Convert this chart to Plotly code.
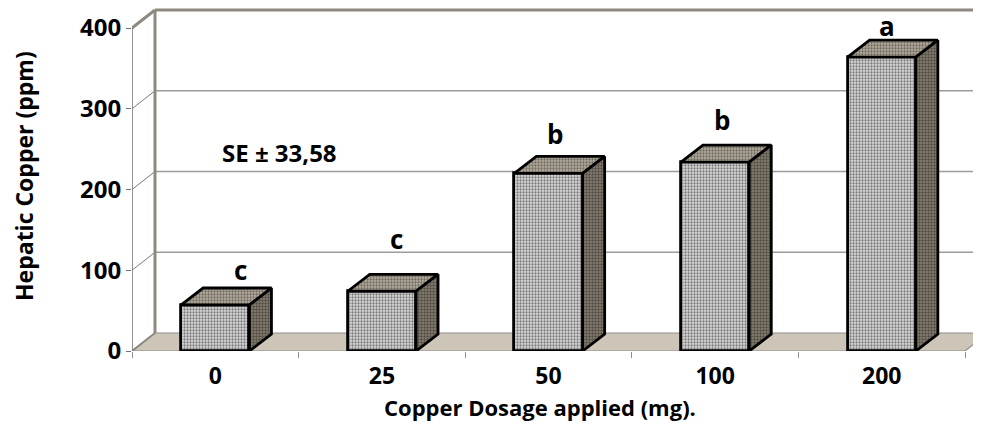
import plotly.graph_objects as go

# ---- data ----
categories = ["0", "25", "50", "100", "200"]
hepatic_cu = [57, 74, 220, 234, 364]
letters = ["c", "c", "b", "b", "a"]
letter_x = [0.15, 1.09, 2.04, 3.04, 4.03]
letter_y = [100, 139, 269, 286, 402]
y_ticks = [0, 100, 200, 300, 400]
se_text = "SE \u00b1 33,58"

# ---- geometry of the pseudo-3D look (in axis units) ----
BAR_W = 0.41
B_DX, B_DY = 0.132, 21.0     # bar depth offset
W_DX, W_DY = 0.138, 22.3     # wall depth offset
X0, X1 = -0.5, len(categories) - 0.5
XR = 4.644
YR = 424.8

# page body margin (browser default) is compensated in the layout margins
ML, MT, MB = 124, 0, 100
PW, PH = 981 - ML, 443 - MT - MB


def px(xw):
    return (xw - 8 - ML) / PW


def py(yw):
    return (8 + MT + PH - yw) / PH


FONT = "Open Sans"
GRID = "#9c9c9c"
WALL = "#8e8a80"

fig = go.Figure()

idx = list(range(len(categories)))

# front faces
fig.add_trace(go.Bar(
    x=idx, y=hepatic_cu, width=BAR_W,
    marker=dict(color="#d8d8d8",
                line=dict(color="black", width=2.8),
                pattern=dict(shape=".", fgcolor="#1a1a1a", bgcolor="#dadada",
                             size=3, solidity=0.45)),
    hoverinfo="skip", showlegend=False))

# top and side faces
for i, v in zip(idx, hepatic_cu):
    l, r = i - BAR_W / 2, i + BAR_W / 2
    fig.add_trace(go.Scatter(
        x=[l, r, r + B_DX, l + B_DX, l], y=[v, v, v + B_DY, v + B_DY, v],
        mode="lines", fill="toself", fillcolor="#b3ab9c",
        fillpattern=dict(shape=".", fgcolor="#2a2a2a", bgcolor="#b5ac9c",
                         size=3, solidity=0.45),
        line=dict(color="black", width=2.8), hoverinfo="skip", showlegend=False))
    fig.add_trace(go.Scatter(
        x=[r, r + B_DX, r + B_DX, r, r], y=[0, B_DY, v + B_DY, v, 0],
        mode="lines", fill="toself", fillcolor="#847d70",
        fillpattern=dict(shape=".", fgcolor="#1a1a1a", bgcolor="#898172",
                         size=3, solidity=0.5),
        line=dict(color="black", width=2.8), hoverinfo="skip", showlegend=False))

shapes = []
# floor
shapes.append(dict(type="path", xref="x", yref="y", layer="below",
                   path=f"M {X0},0 L {X1},0 L {X1 + W_DX},{W_DY} L {X0 + W_DX},{W_DY} Z",
                   fillcolor="#cdc5b7", line=dict(color="#8f8f8f", width=1.2)))
# back wall gridlines + side-wall diagonals
for t in y_ticks[1:]:
    top = t == y_ticks[-1]
    shapes.append(dict(type="line", xref="x", yref="y", layer="below",
                       x0=X0 + W_DX, y0=t + W_DY, x1=XR + 0.2, y1=t + W_DY,
                       line=dict(color=WALL if top else GRID, width=3 if top else 1.5)))
    shapes.append(dict(type="line", xref="x", yref="y", layer="below",
                       x0=X0, y0=t, x1=X0 + W_DX, y1=t + W_DY,
                       line=dict(color=WALL if top else "#555555", width=3 if top else 0.8)))
# back wall left edge
shapes.append(dict(type="line", xref="x", yref="y", layer="below",
                   x0=X0 + W_DX, y0=W_DY, x1=X0 + W_DX, y1=y_ticks[-1] + W_DY,
                   line=dict(color=WALL, width=3)))
# floor left diagonal
shapes.append(dict(type="line", xref="x", yref="y", layer="below",
                   x0=X0, y0=0, x1=X0 + W_DX, y1=W_DY,
                   line=dict(color=WALL, width=2)))
# front value axis line
shapes.append(dict(type="line", xref="x", yref="y", layer="below",
                   x0=X0, y0=0, x1=X0, y1=y_ticks[-1],
                   line=dict(color="#6f6f6f", width=1.5)))

annotations = []
for lx, ly, t in zip(letter_x, letter_y, letters):
    annotations.append(dict(x=lx, y=ly, xref="x", yref="y", text=t, showarrow=False,
                            xanchor="center", yanchor="middle",
                            font=dict(family=FONT, size=26, color="black", weight="bold")))
annotations.append(dict(x=px(279), y=py(153), xref="paper", yref="paper", text=se_text,
                        showarrow=False, xanchor="center", yanchor="middle",
                        font=dict(family=FONT, size=24, color="black", weight="bold")))
annotations.append(dict(x=px(540), y=py(407), xref="paper", yref="paper",
                        text="Copper Dosage applied (mg).", showarrow=False,
                        xanchor="center", yanchor="middle",
                        font=dict(family=FONT, size=22, color="black", weight="bold")))
annotations.append(dict(x=px(24), y=py(176), xref="paper", yref="paper",
                        text="Hepatic Copper (ppm)", showarrow=False, textangle=-90,
                        xanchor="center", yanchor="middle",
                        font=dict(family=FONT, size=23, color="black", weight="bold")))

fig.update_layout(
    width=981, height=443,
    margin=dict(l=ML, r=0, t=MT, b=MB, pad=0),
    paper_bgcolor="white", plot_bgcolor="white",
    shapes=shapes, annotations=annotations,
    bargap=0,
    xaxis=dict(range=[X0, XR], tickvals=idx, ticktext=categories,
               showgrid=False, zeroline=False, showline=False, ticks="",
               ticklabelstandoff=9,
               tickfont=dict(family=FONT, size=23, color="black", weight="bold"),
               minor=dict(tick0=-0.5, dtick=1, ticks="outside", ticklen=6,
                          tickcolor="#8f8f8f", tickwidth=1.2, showgrid=False)),
    yaxis=dict(range=[0, YR], tickvals=y_ticks,
               showgrid=False, zeroline=False, showline=False,
               ticks="outside", ticklen=5, tickcolor="#6f6f6f", tickwidth=1.2,
               tickfont=dict(family=FONT, size=24, color="black", weight="bold")),
)

fig.write_html("out.html")
